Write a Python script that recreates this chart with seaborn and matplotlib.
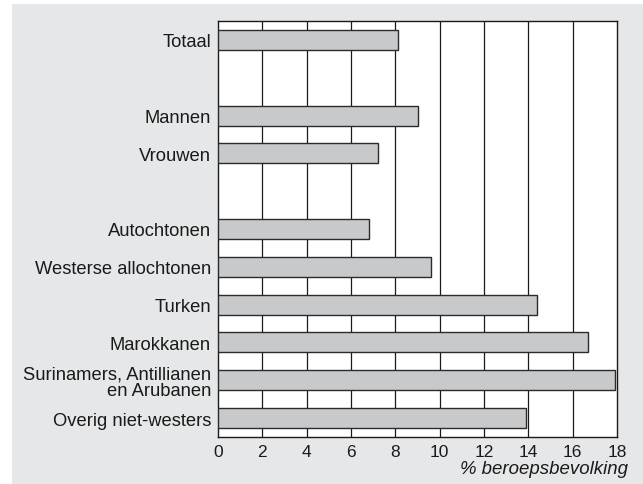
import matplotlib
matplotlib.use("Agg")
import matplotlib.pyplot as plt
import seaborn as sns
import pandas as pd
from matplotlib.patches import Rectangle

# data
groups = ["Totaal", "Mannen", "Vrouwen", "Autochtonen", "Westerse allochtonen",
          "Turken", "Marokkanen", "Surinamers, Antillianen\nen Arubanen",
          "Overig niet-westers"]
values = [8.1, 9.0, 7.2, 6.8, 9.6, 14.4, 16.7, 17.9, 13.9]
# empty slots separate the blocks
order = ["Totaal", " ", "Mannen", "Vrouwen", "  ", "Autochtonen",
         "Westerse allochtonen", "Turken", "Marokkanen",
         "Surinamers, Antillianen\nen Arubanen", "Overig niet-westers"]
xticks = [0, 2, 4, 6, 8, 10, 12, 14, 16, 18]

df = pd.DataFrame({"groep": groups, "pct": values})

sns.set_theme(style="white")
plt.rcParams["font.family"] = ["Liberation Sans", "DejaVu Sans"]

bg = "#e6e7e8"
ink = "#1a1a1a"
fig = plt.figure(figsize=(6.43, 4.85), dpi=100, facecolor="white")
fig.patches.append(Rectangle((12 / 643, 0), 1, 1 - 5 / 485, transform=fig.transFigure,
                             facecolor=bg, edgecolor="none", zorder=-10))
ax = fig.add_axes([218 / 643, 1 - 438 / 485, 399 / 643, 416 / 485])
ax.set_facecolor("white")

sns.barplot(data=df, x="pct", y="groep", order=order, orient="h", ax=ax,
            color="#c8c9cb", edgecolor="#2b2b2b", linewidth=1.0, width=0.53,
            saturation=1, errorbar=None, zorder=3)

ax.set_xlim(0, 18)
ax.set_ylim(10.5, -0.5)
ax.set_xticks(xticks)
ax.set_xticklabels([str(t) for t in xticks])
for t in xticks[1:-1]:
    ax.axvline(t, color=ink, linewidth=0.9, zorder=1)

for s in ax.spines.values():
    s.set_visible(True)
    s.set_color(ink)
    s.set_linewidth(1.0)

ax.tick_params(axis="both", length=0, colors=ink)
ax.tick_params(axis="x", pad=5, labelsize=12.5)
ax.tick_params(axis="y", pad=5, labelsize=13.2)

ax.set_yticks(range(len(order)))
ax.set_yticklabels(order)
ax.set_ylabel("")
ax.set_xlabel("% beroepsbevolking", fontsize=13.4, style="italic", color=ink)
ax.xaxis.set_label_coords((628 - 218) / 399, -(470 - 438) / 416)
ax.xaxis.label.set_horizontalalignment("right")
ax.xaxis.label.set_verticalalignment("center")

fig.canvas.draw()
for tick in ax.yaxis.get_major_ticks():
    tick.label1.set_multialignment("right")
    tick.label1.set_linespacing(0.95)

fig.savefig("out.png", dpi=100, facecolor="white")
